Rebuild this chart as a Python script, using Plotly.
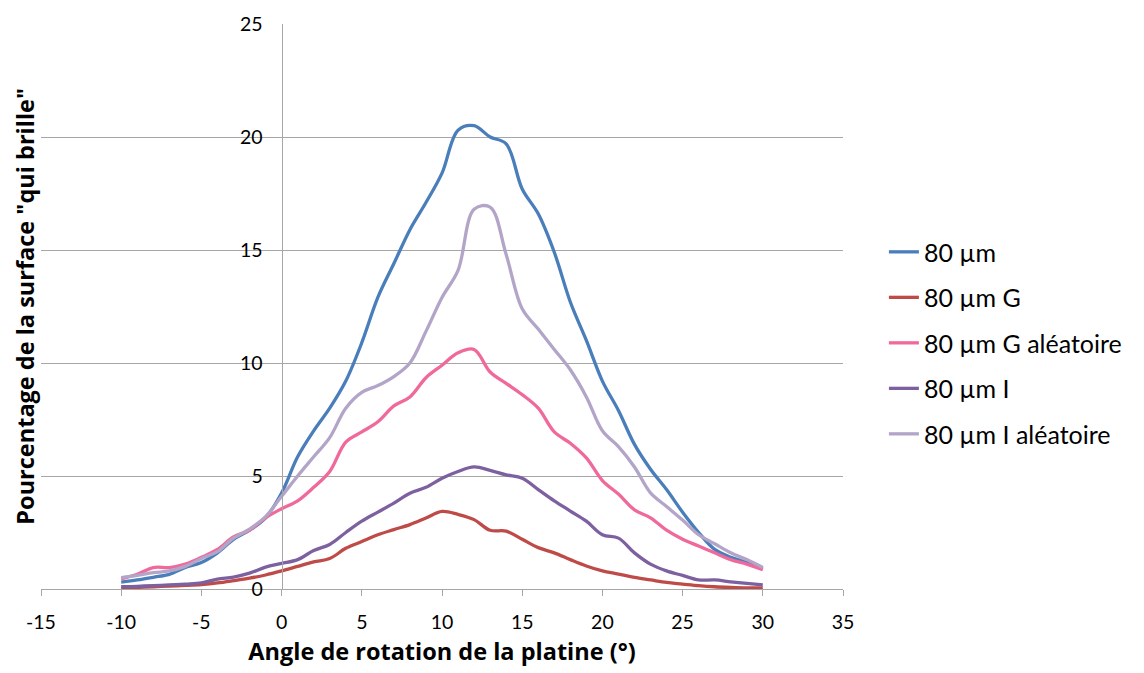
import plotly.graph_objects as go

angles = list(range(-10, 31))

s_80 = [0.3, 0.4, 0.52, 0.65, 0.95, 1.17, 1.6, 2.2, 2.6, 3.15, 4.25,
        5.85, 7.0, 8.0, 9.2, 10.9, 12.9, 14.4, 15.9, 17.1, 18.4,
        20.3, 20.5, 20.0, 19.7, 17.7, 16.6, 14.9, 12.7, 11.0, 9.2,
        7.9, 6.4, 5.3, 4.4, 3.4, 2.5, 1.75, 1.4, 1.17, 0.9]
s_80_g = [0.05, 0.07, 0.1, 0.13, 0.16, 0.2, 0.27, 0.37, 0.48, 0.62, 0.8,
          1.0, 1.2, 1.35, 1.8, 2.1, 2.4, 2.63, 2.85, 3.14, 3.43,
          3.3, 3.07, 2.6, 2.56, 2.2, 1.83, 1.6, 1.3, 1.02, 0.8,
          0.66, 0.51, 0.4, 0.29, 0.22, 0.15, 0.1, 0.07, 0.05, 0.05]
s_80_g_alea = [0.45, 0.65, 0.95, 0.95, 1.1, 1.4, 1.75, 2.3, 2.6, 3.15, 3.55,
               3.9, 4.5, 5.2, 6.5, 6.95, 7.4, 8.1, 8.5, 9.35, 9.9,
               10.45, 10.6, 9.6, 9.1, 8.6, 8.0, 6.95, 6.45, 5.8, 4.8,
               4.2, 3.5, 3.15, 2.6, 2.2, 1.9, 1.6, 1.3, 1.1, 0.85]
s_80_i = [0.1, 0.12, 0.15, 0.18, 0.22, 0.27, 0.44, 0.53, 0.7, 0.97, 1.13,
          1.3, 1.7, 1.97, 2.5, 3.0, 3.4, 3.8, 4.24, 4.5, 4.9,
          5.2, 5.4, 5.25, 5.05, 4.9, 4.4, 3.9, 3.45, 3.0, 2.4,
          2.25, 1.6, 1.1, 0.8, 0.6, 0.4, 0.4, 0.32, 0.25, 0.18]
s_80_i_alea = [0.5, 0.6, 0.72, 0.8, 1.0, 1.35, 1.65, 2.25, 2.65, 3.2, 4.1,
               5.0, 5.85, 6.7, 8.0, 8.7, 9.0, 9.4, 10.0, 11.4, 12.9,
               14.1, 16.8, 16.9, 14.8, 12.4, 11.5, 10.6, 9.7, 8.5, 7.0,
               6.3, 5.4, 4.25, 3.65, 3.05, 2.4, 2.0, 1.6, 1.3, 0.95]

series_names = ["80 µm", "80 µm G", "80 µm G aléatoire", "80 µm I", "80 µm I aléatoire"]
series_values = [s_80, s_80_g, s_80_g_alea, s_80_i, s_80_i_alea]
series_colors = ["#4A7EBB", "#BE4B48", "#F0699B", "#7D60A0", "#B3A5C8"]

x_tickvals = [-15, -10, -5, 0, 5, 10, 15, 20, 25, 30, 35]
x_ticktext = ["-15", "-10", "-5", "0", "5", "10", "15", "20", "25", "30", "35"]

FONT = "Lato, 'Open Sans', sans-serif"
TFONT = "'Open Sans', Lato, sans-serif"

fig = go.Figure()
for i, (name, vals, col) in enumerate(zip(series_names, series_values, series_colors)):
    fig.add_trace(go.Scatter(
        x=angles, y=vals, name=name, mode="lines",
        line=dict(color=col, width=3.3, shape="spline", smoothing=1.0),
        legendgroup=f"g{i}",
    ))

fig.update_layout(
    width=1144, height=673,
    paper_bgcolor="white", plot_bgcolor="white",
    margin=dict(l=41, r=301, t=20, b=83),
    font=dict(family=FONT, size=19.5, color="#000000"),
    showlegend=True,
    legend=dict(
        x=1.051, y=0.637, xanchor="left", yanchor="top",
        font=dict(size=25, family=FONT),
        traceorder="grouped", tracegroupgap=10,
        bgcolor="rgba(0,0,0,0)",
    ),
    xaxis=dict(
        range=[-15, 35], tickvals=x_tickvals, ticktext=x_ticktext,
        showgrid=False, zeroline=False,
        showline=True, linecolor="#A6A6A6", linewidth=1,
        ticks="outside", ticklen=6, tickcolor="#A6A6A6",
        ticklabelstandoff=10,
        tickfont=dict(size=19.5),
        title=dict(text="<b>Angle de rotation de la platine (°)</b>",
                   font=dict(size=23.5, family=TFONT), standoff=11),
    ),
    yaxis=dict(
        range=[0, 25], dtick=5,
        anchor="free", position=0.3,
        showgrid=True, gridcolor="#A6A6A6", gridwidth=1,
        zeroline=False,
        showline=True, linecolor="#A6A6A6", linewidth=1,
        ticks="", ticklabelstandoff=15,
        tickfont=dict(size=19.5),
    ),
    annotations=[dict(
        text="<b>Pourcentage de la surface \"qui brille\"</b>",
        textangle=-90, xref="paper", yref="paper",
        x=-0.021, y=0.5, xanchor="center", yanchor="middle",
        showarrow=False, font=dict(size=23.5, family=TFONT),
    )],
)

fig.write_html("out.html", config={"displayModeBar": False},
               post_script="document.body.style.margin='0';")
